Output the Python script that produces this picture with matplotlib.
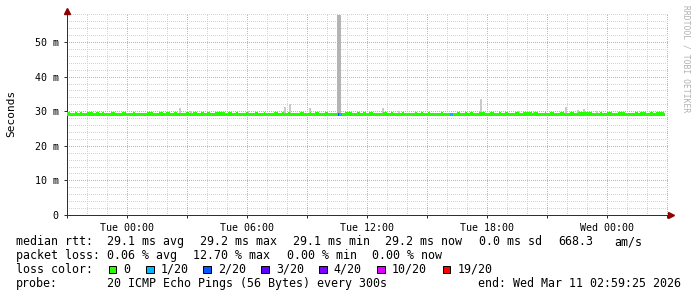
import matplotlib
matplotlib.use("Agg")
import matplotlib.pyplot as plt
from matplotlib.patches import Rectangle
from matplotlib.ticker import FixedLocator, FixedFormatter

# time axis: hours since Mon 21:00
xtick_hours = [3, 9, 15, 21, 27]
xtick_labels = ["Tue 00:00", "Tue 06:00", "Tue 12:00", "Tue 18:00", "Wed 00:00"]
ytick_ms = [0, 10, 20, 30, 40, 50]
ytick_labels = ["0", "10 m", "20 m", "30 m", "40 m", "50 m"]

# median rtt (ms): flat line with short 1-step bumps
median_ms = 29.1
bump_ms = 29.4
data_end = 29.85
bump_start = [0.0, 0.4, 0.65, 1.0, 1.45, 1.75, 2.2, 2.75, 3.3, 4.0, 4.6, 4.95, 5.35,
              5.95, 6.3, 6.7, 7.0, 7.4, 8.05, 8.45, 8.95, 9.4, 9.85, 10.35, 10.75,
              11.05, 11.65, 12.15, 12.4, 12.9, 13.9, 14.5, 14.8, 15.1, 15.8, 16.2,
              16.75, 17.4, 17.7, 18.05, 18.7, 19.5, 19.9, 20.15, 20.6, 21.15, 21.6,
              21.9, 22.4, 22.8, 23.35, 23.9, 24.15, 24.65, 25.15, 25.55, 26.65,
              27.0, 27.55, 28.4, 28.65, 29.15, 29.45]
bump_end = [0.15, 0.5, 0.75, 1.3, 1.6, 1.85, 2.4, 2.95, 3.4, 4.3, 4.8, 5.15, 5.5,
            6.1, 6.5, 6.85, 7.15, 7.9, 8.25, 8.55, 9.05, 9.55, 9.9, 10.55, 10.85,
            11.15, 11.85, 12.2, 12.6, 13.05, 14.25, 14.65, 14.95, 15.3, 16.0, 16.3,
            16.85, 17.5, 17.8, 18.15, 18.8, 19.65, 20.0, 20.3, 20.9, 21.35, 21.7,
            22.05, 22.6, 23.25, 23.55, 23.95, 24.35, 24.85, 25.35, 26.25, 26.75,
            27.25, 27.9, 28.55, 28.95, 29.3, 29.85]

# smoke (max ping per 5 min sample, ms)
smoke_hours = [5.65, 6.2, 9.05, 10.9, 11.15, 12.15, 13.58, 13.67, 15.8, 16.6,
               20.7, 22.6, 23.35, 24.95, 25.55, 25.85, 26.5]
smoke_max = [30.9, 30.1, 30.2, 31.3, 32.1, 30.9, 57.8, 57.8, 30.9, 30.0,
             33.6, 30.0, 29.9, 31.3, 30.3, 30.6, 30.0]

# packet loss samples (pings lost of 20)
loss_hours = [13.58, 13.67, 19.2]
loss_pings = [2, 1, 1]

loss_levels = [0, 1, 2, 3, 4, 10, 19]
loss_names = ["0", "1/20", "2/20", "3/20", "4/20", "10/20", "19/20"]
loss_colors = ["#26ff00", "#00b8ff", "#0059ff", "#5e00ff", "#7e00ff", "#dd00ff", "#ff0000"]

W, H = 697, 297
px = 0.72  # one pixel in points

fig = plt.figure(figsize=(W / 100, H / 100), dpi=100)
fig.patch.set_facecolor("white")
ax = fig.add_axes([67 / W, (H - 215) / H, 602 / W, 202 / H])
ax.set_xlim(0, 30.1)
ax.set_ylim(0, 58.4)

# grid (minor positions skip the major ones)
ax.xaxis.set_major_locator(FixedLocator(list(range(0, 31, 3))))
ax.xaxis.set_minor_locator(FixedLocator([t for t in range(0, 31) if t % 3]))
ax.yaxis.set_major_locator(FixedLocator(ytick_ms))
ax.yaxis.set_minor_locator(FixedLocator([v for v in range(0, 59, 2) if v % 10]))
ax.grid(which="minor", color="#d4d4d4", lw=px, ls=(0, (1, 2)), antialiased=False)
ax.grid(which="major", color="#f0a0a0", lw=px, ls=(0, (1, 2)), antialiased=False)
ax.set_axisbelow(True)

# smoke
for h, m in zip(smoke_hours, smoke_max):
    col = "#b4b4b4" if m > 40 else "#cacaca"
    ax.bar(h, m - median_ms, bottom=median_ms, width=0.11, color=col,
           linewidth=0, antialiased=False, zorder=2)

# median line
ax.hlines(median_ms, 0, data_end, color=loss_colors[0], lw=3 * px,
          antialiased=False, zorder=3)
ax.hlines([bump_ms] * len(bump_start), bump_start, bump_end,
          color=loss_colors[0], lw=2 * px, antialiased=False, zorder=3)
for h, n in zip(loss_hours, loss_pings):
    col = loss_colors[loss_levels.index(n)]
    ax.hlines(median_ms, h - 0.05, h + 0.05, color=col, lw=3 * px,
              antialiased=False, zorder=4)

# ticks and labels
labels = []
for t in range(0, 31, 3):
    labels.append(xtick_labels[xtick_hours.index(t)] if t in xtick_hours else "")
ax.xaxis.set_major_formatter(FixedFormatter(labels))
ax.yaxis.set_major_formatter(FixedFormatter(ytick_labels))
ax.tick_params(axis="both", which="major", length=2, width=px, color="#303030",
               labelsize=7.2, labelcolor="#000000")
ax.tick_params(axis="both", which="minor", length=0)
ax.tick_params(axis="x", pad=4)
ax.tick_params(axis="y", pad=4)
for lab in ax.get_xticklabels() + ax.get_yticklabels():
    lab.set_family("DejaVu Sans Mono")

for s in ["top", "right"]:
    ax.spines[s].set_visible(False)
for s in ["left", "bottom"]:
    ax.spines[s].set_color("#303030")
    ax.spines[s].set_linewidth(px)

ax.plot([0], [1.01], marker="^", ms=4, color="#8b0000", transform=ax.transAxes,
        clip_on=False, zorder=5)
ax.plot([1.004], [0], marker=">", ms=4, color="#8b0000", transform=ax.transAxes,
        clip_on=False, zorder=5)

mono = "DejaVu Sans Mono"
fig.text(11 / W, 1 - 113 / H, "Seconds", rotation=90, ha="center", va="center",
         family=mono, fontsize=8)
fig.text(686 / W, 1 - 5 / H, "RRDTOOL / TOBI OETIKER", rotation=-90, ha="center",
         va="top", family=mono, fontsize=5.8, color="#b0b0b0")

# legend block
def put(x, base_y, s):
    fig.text(x / W, 1 - base_y / H, s, family=mono, fontsize=8.4, ha="left",
             va="baseline", color="#000000")

row1 = [(16, "median rtt:"), (107.3, "29.1 ms avg"), (200, "29.2 ms max"),
        (292.9, "29.1 ms min"), (385.4, "29.2 ms now"), (479.3, "0.0 ms sd"),
        (558.3, "668.3"), (614, "am/s")]
row2 = [(16, "packet loss:"), (107.3, "0.06 % avg"), (193.3, "12.70 % max"),
        (286.7, "0.00 % min"), (372.4, "0.00 % now")]
row4 = [(16, "probe:"), (107.3, "20 ICMP Echo Pings (56 Bytes) every 300s"),
        (478.3, "end: Wed Mar 11 02:59:25 2026")]
for x, s in row1:
    put(x, 245.3, s)
for x, s in row2:
    put(x, 258.7, s)
for x, s in row4:
    put(x, 286.7, s)

put(16, 272.7, "loss color:")
square_x = [108.7, 146, 203.3, 261.3, 319, 377, 442.7]
for sx, name, col in zip(square_x, loss_names, loss_colors):
    fig.patches.append(Rectangle((sx / W, (H - 273) / H), 7.5 / W, 7.5 / H,
                                 transform=fig.transFigure, facecolor=col,
                                 edgecolor="#000000", lw=px))
    put(sx + 14.5, 272.7, name)

fig.savefig("out.png", dpi=100)
